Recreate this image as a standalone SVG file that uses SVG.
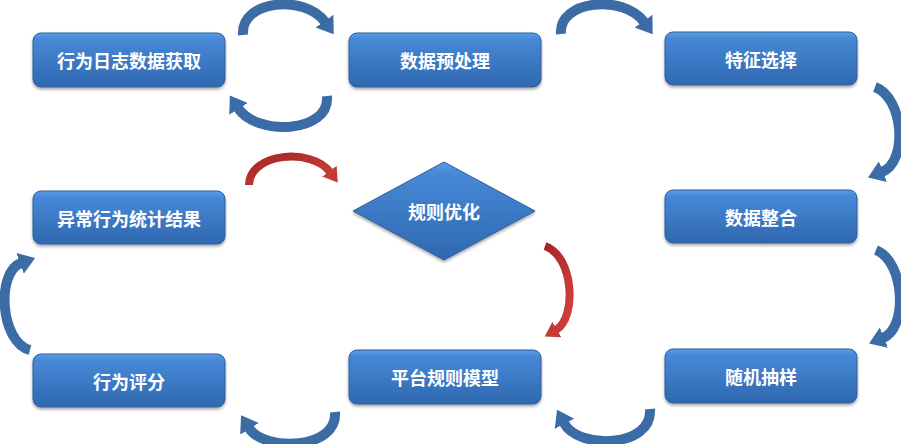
<svg xmlns="http://www.w3.org/2000/svg" width="901" height="444" viewBox="0 0 901 444">
<style>
.box{fill:url(#bg);stroke:#2f5f9a;stroke-width:1;filter:url(#sh)}
.lbl{font-family:"Noto Sans CJK SC","Noto Sans",sans-serif;font-weight:700;font-size:18px;fill:#fff;text-anchor:middle;dominant-baseline:central}
.arr{fill:none;stroke:#3b6ca5;stroke-width:10;stroke-linecap:butt}
.red{fill:none;stroke:url(#rg);stroke-width:8;stroke-linecap:butt}
</style>
<defs>
<linearGradient id="bg" x1="0" y1="0" x2="0" y2="1">
<stop offset="0" stop-color="#5c9de6"/>
<stop offset="0.12" stop-color="#4688d6"/>
<stop offset="1" stop-color="#2f68b0"/>
</linearGradient>
<linearGradient id="rg" x1="0" y1="0" x2="1" y2="1">
<stop offset="0" stop-color="#a52624"/>
<stop offset="1" stop-color="#d2413d"/>
</linearGradient>
<filter id="sh" x="-10%" y="-20%" width="120%" height="150%">
<feDropShadow dx="0" dy="2" stdDeviation="1.8" flood-color="#000" flood-opacity="0.35"/>
</filter>
<marker id="hb" markerUnits="userSpaceOnUse" markerWidth="18" markerHeight="26" refX="1" refY="13" orient="auto">
<path d="M0,2 L16,13 L0,24 Z" fill="#3b6ca5"/>
</marker>
<marker id="hr" markerUnits="userSpaceOnUse" markerWidth="16" markerHeight="22" refX="1" refY="11" orient="auto">
<path d="M0,2 L14,11 L0,20 Z" fill="#c63a36"/>
</marker>
</defs>
<g id="connectors">
<path class="arr" marker-end="url(#hb)" d="M243,35 C240,0 305,-6 325,22"/>
<path class="arr" marker-end="url(#hb)" d="M327,96 C330,134 256,136 238,108"/>
<path class="arr" marker-end="url(#hb)" d="M561,34 C558,0 624,-6 644,22"/>
<path class="arr" marker-end="url(#hb)" d="M875,87 C904,98 908,162 882,172"/>
<path class="arr" marker-end="url(#hb)" d="M876,250 C905,262 908,328 883,338"/>
<path class="arr" marker-end="url(#hb)" d="M650,409 C653,448 578,450 564,423"/>
<path class="arr" marker-end="url(#hb)" d="M335,412 C338,450 264,452 249,428"/>
<path class="arr" marker-end="url(#hb)" d="M30,350 C0,342 -4,272 21,263"/>
<path class="red" marker-end="url(#hr)" d="M249,185 C250,152 312,148 330,172"/>
<path class="red" marker-end="url(#hr)" d="M545,246 C574,256 577,318 556,330"/>
</g>
<g id="n1"><rect class="box" x="33" y="33" width="192" height="54" rx="8"/><text class="lbl" x="129" y="60">行为日志数据获取</text></g>
<g id="n2"><rect class="box" x="349" y="33" width="192" height="54" rx="8"/><text class="lbl" x="445" y="60">数据预处理</text></g>
<g id="n3"><rect class="box" x="665" y="32" width="192" height="53" rx="8"/><text class="lbl" x="761" y="59">特征选择</text></g>
<g id="n4"><rect class="box" x="665" y="190" width="192" height="53" rx="8"/><text class="lbl" x="761" y="217">数据整合</text></g>
<g id="n5"><rect class="box" x="665" y="349" width="192" height="54" rx="8"/><text class="lbl" x="761" y="376">随机抽样</text></g>
<g id="n6"><rect class="box" x="349" y="350" width="192" height="54" rx="8"/><text class="lbl" x="445" y="377">平台规则模型</text></g>
<g id="n7"><rect class="box" x="33" y="354" width="192" height="53" rx="8"/><text class="lbl" x="129" y="381">行为评分</text></g>
<g id="n8"><rect class="box" x="33" y="191" width="192" height="53" rx="8"/><text class="lbl" x="129" y="218">异常行为统计结果</text></g>
<g id="n9"><polygon class="box" points="353,211 444,162 535,211 444,260"/><text class="lbl" x="444" y="211">规则优化</text></g>
</svg>
